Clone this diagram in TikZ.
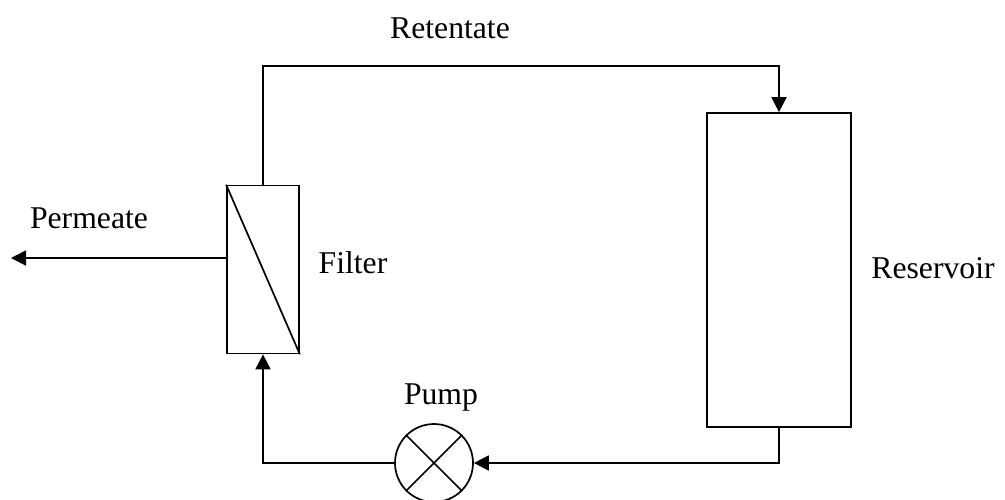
\documentclass[tikz,border=0pt]{standalone}
\usepackage{fontspec}
\setmainfont{Liberation Serif}
\usetikzlibrary{arrows.meta}
\tikzset{
 line/.style={draw=black,line width=1.7pt},
 flow/.style={line,-{Triangle[length=15pt,width=15pt]}},
 lbl/.style={font=\fontsize{31.7pt}{36pt}\selectfont,inner sep=0pt,anchor=base},
 unit/.style={line,rectangle,inner sep=0pt,minimum width=0pt}
}
\begin{document}
\begin{tikzpicture}[x=1pt,y=-1pt,line join=miter]
\useasboundingbox[fill=white] (0,0) rectangle (1005,499);
\node[unit,minimum width=72pt,minimum height=168pt] (filter) at (263,269.5) {};
\node[unit,minimum width=144.5pt,minimum height=314pt] (reservoir) at (779,270) {};
\node[line,circle,minimum size=78pt,inner sep=0pt] (pump) at (434,463) {};
\draw[line] (filter.north west) -- (filter.south east);
\draw[line] (pump.north west) -- (pump.south east);
\draw[line] (pump.north east) -- (pump.south west);
\coordinate (permout) at (11,258);
\coordinate (permin) at (filter.west |- permout);
\draw[flow] (permin) -- (permout);
\coordinate (ret1) at (263,66);
\coordinate (ret2) at (779,66);
\draw[flow] (filter.north) -- (ret1) -- (ret2) -- (reservoir.north);
\coordinate (res1) at (reservoir.south |- pump.east);
\draw[flow] (reservoir.south) -- (res1) -- (pump.east);
\coordinate (pmp1) at (filter.south |- pump.west);
\draw[flow] (pump.west) -- (pmp1) -- (filter.south);
\node[lbl] (tret) at (450,38) {Retentate};
\node[lbl] (tperm) at (89,228) {Permeate};
\node[lbl] (tfil) at (353,273) {Filter};
\node[lbl] (tres) at (933,278) {Reservoir};
\node[lbl] (tpump) at (441,404) {Pump};
\end{tikzpicture}
\end{document}
